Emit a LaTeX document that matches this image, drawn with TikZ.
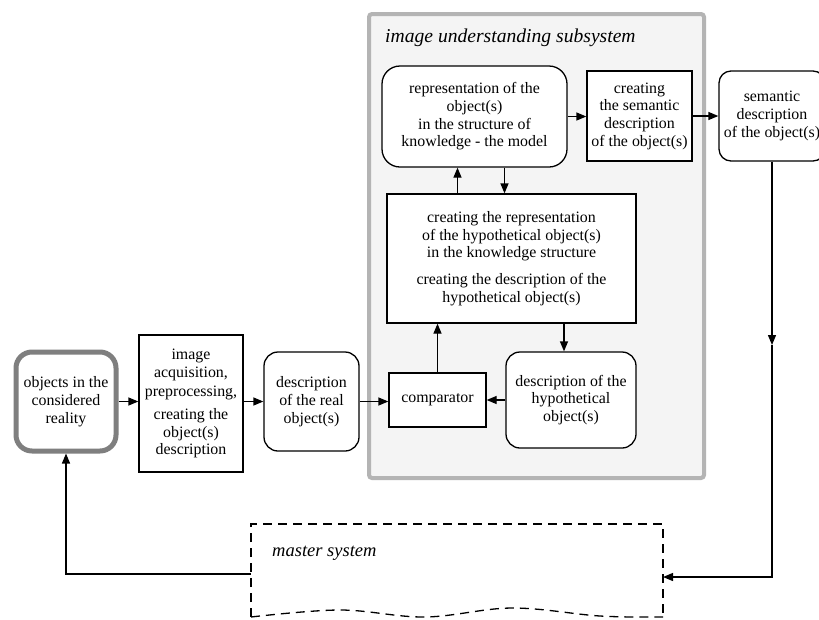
\documentclass[tikz,border=0pt]{standalone}
\usepackage{fontspec}
\setmainfont{Liberation Serif}
\usepackage{xcolor}
\usepackage{tikz}
\usetikzlibrary{arrows.meta}

\definecolor{subsysline}{HTML}{B4B4B4}
\definecolor{subsysfill}{HTML}{F4F4F4}
\definecolor{realline}{HTML}{7F7F7F}

\begin{document}
\begin{tikzpicture}[x=1pt, y=-1pt,
    every node/.style={align=center, inner sep=0pt, font=\fontsize{15.9}{17.7}\selectfont},
    box/.style={draw, line width=1.3pt, fill=white},
    rbox/.style={box, rounded corners=14pt},
    arr/.style={line width=1.3pt, -{Triangle[length=10pt, width=8pt]}}]
\clip (0,0) rectangle (819,619);
\fill[white] (0,0) rectangle (819,619);

% image understanding subsystem
\node[draw=subsysline, fill=subsysfill, line width=4pt, rounded corners=3pt,
      minimum width=335pt, minimum height=464pt] (subsys) at (536.5,246) {};
\node[anchor=west, font=\fontsize{19.6}{22}\selectfont\itshape] (title) at (385,38) {image understanding subsystem};

\node[draw=realline, line width=5pt, rounded corners=16pt, minimum width=100pt, minimum height=99pt] (obj) at (66,401.5)
    {objects in the\\considered\\reality};
\node[box, minimum width=104pt, minimum height=137pt] (acq) at (191,403.5)
    {image\\acquisition,\\[2pt]preprocessing,\\[5pt]creating the\\object(s)\\description};
\node[rbox, minimum width=95pt, minimum height=99pt] (real) at (311.5,401.5)
    {description\\of the real\\object(s)};
\node[box, minimum width=97pt, minimum height=54pt] (comp) at (437.5,400) {comparator};
\node[rbox, minimum width=130pt, minimum height=96pt] (hyp) at (571,400)
    {description of the\\hypothetical\\object(s)};
\node[box, minimum width=249pt, minimum height=129pt] (crep) at (511.5,258.5)
    {creating the representation\\of the hypothetical object(s)\\in the knowledge structure\\[9pt]creating the description of the\\hypothetical object(s)};
\node[rbox, rounded corners=18pt, minimum width=185pt, minimum height=101pt] (rep) at (474.5,116.5)
    {representation of the\\object(s)\\in the structure of\\knowledge - the model};
\node[box, minimum width=105pt, minimum height=90pt] (csem) at (639.5,116)
    {creating\\the semantic\\description\\of the object(s)};
\node[rbox, rounded corners=12pt, minimum width=106pt, minimum height=90pt] (sem) at (772,116)
    {semantic\\description\\of the object(s)};

% master system
\draw[line width=1.3pt, dash pattern=on 9pt off 6pt] (251,617) -- (251,524) -- (663,524) -- (663,617);
\draw[line width=1.3pt, dash pattern=on 9pt off 6pt] plot[smooth, tension=0.6] coordinates
    {(251,617) (340,610) (425,617) (512,608) (600,616) (663,617)};
\node[anchor=west, font=\fontsize{18.5}{20}\selectfont\itshape] (mtext) at (272,553) {master system};
\coordinate (msin) at (663,577);
\coordinate (msout) at (251,574);
\coordinate (mid) at (772,345);

\draw[arr] (obj.east) -- (obj.east -| acq.west);
\draw[arr] (acq.east |- real) -- (real.west);
\draw[arr] (real.east) -- (real.east -| comp.west);
\draw[arr] (hyp.west) -- (hyp.west -| comp.east);
\draw[arr] (comp.north) -- (comp.north |- crep.south);
\draw[arr] ([xshift=-7pt]hyp.north |- crep.south) -- ([xshift=-7pt]hyp.north);
\draw[arr] ([xshift=-17pt]rep.south |- crep.north) -- ([xshift=-17pt]rep.south);
\draw[arr] ([xshift=30pt]rep.south) -- ([xshift=30pt]rep.south |- crep.north);
\draw[arr] (rep.east) -- (rep.east -| csem.west);
\draw[arr] (csem.east) -- (csem.east -| sem.west);
\draw[arr] (sem.south) -- (mid);
\draw[arr] (mid) |- (msin);
\draw[arr] (msout) -| (obj.south);
\end{tikzpicture}
\end{document}
